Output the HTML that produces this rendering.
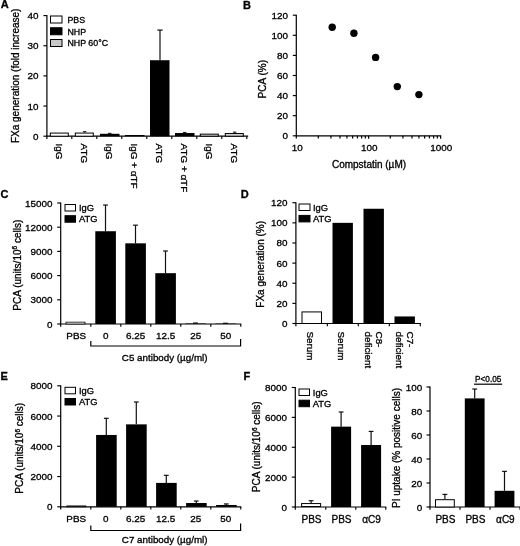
<!DOCTYPE html>
<html><head><meta charset="utf-8"><title>Figure</title>
<style>
html,body{margin:0;padding:0;background:#fff;}
svg{display:block;filter:blur(0.35px);font-family:"Liberation Sans",sans-serif;fill:#000;}
text{stroke:#000;stroke-width:0.32px;}
</style></head><body>
<svg width="520" height="546" viewBox="0 0 520 546">
<rect x="0" y="0" width="520" height="546" fill="#fff"/>
<text x="0.7" y="7.9" font-size="11" text-anchor="start" font-weight="bold">A</text>
<line x1="46.9" y1="15.1" x2="46.9" y2="138.89999999999998" stroke="#000" stroke-width="1.2"/>
<line x1="43.4" y1="136.2" x2="46.9" y2="136.2" stroke="#000" stroke-width="1.15"/>
<text x="38.599999999999994" y="139.7" font-size="9.9" text-anchor="end">0</text>
<line x1="43.4" y1="106.04999999999998" x2="46.9" y2="106.04999999999998" stroke="#000" stroke-width="1.15"/>
<text x="38.599999999999994" y="109.54999999999998" font-size="9.9" text-anchor="end">10</text>
<line x1="43.4" y1="75.89999999999999" x2="46.9" y2="75.89999999999999" stroke="#000" stroke-width="1.15"/>
<text x="38.599999999999994" y="79.39999999999999" font-size="9.9" text-anchor="end">20</text>
<line x1="43.4" y1="45.75" x2="46.9" y2="45.75" stroke="#000" stroke-width="1.15"/>
<text x="38.599999999999994" y="49.25" font-size="9.9" text-anchor="end">30</text>
<line x1="43.4" y1="15.599999999999994" x2="46.9" y2="15.599999999999994" stroke="#000" stroke-width="1.15"/>
<text x="38.599999999999994" y="19.099999999999994" font-size="9.9" text-anchor="end">40</text>
<line x1="46.3" y1="136.2" x2="248.2" y2="136.2" stroke="#000" stroke-width="1.2"/>
<line x1="71.8" y1="136.2" x2="71.8" y2="138.89999999999998" stroke="#000" stroke-width="1.15"/>
<line x1="96.8" y1="136.2" x2="96.8" y2="138.89999999999998" stroke="#000" stroke-width="1.15"/>
<line x1="121.8" y1="136.2" x2="121.8" y2="138.89999999999998" stroke="#000" stroke-width="1.15"/>
<line x1="146.8" y1="136.2" x2="146.8" y2="138.89999999999998" stroke="#000" stroke-width="1.15"/>
<line x1="171.8" y1="136.2" x2="171.8" y2="138.89999999999998" stroke="#000" stroke-width="1.15"/>
<line x1="196.8" y1="136.2" x2="196.8" y2="138.89999999999998" stroke="#000" stroke-width="1.15"/>
<line x1="221.8" y1="136.2" x2="221.8" y2="138.89999999999998" stroke="#000" stroke-width="1.15"/>
<line x1="246.8" y1="136.2" x2="246.8" y2="138.89999999999998" stroke="#000" stroke-width="1.15"/>
<rect x="50.3" y="133.082" width="18" height="3.1179999999999994" fill="#fff" stroke="#000" stroke-width="1"/>
<text x="56.4" y="143.6" font-size="9.9" text-anchor="start" transform="rotate(90 56.4 143.6)">IgG</text>
<line x1="84.7" y1="131.67749999999998" x2="84.7" y2="132.582" stroke="#111" stroke-width="1.0"/>
<line x1="82.95" y1="131.67749999999998" x2="86.45" y2="131.67749999999998" stroke="#111" stroke-width="1.0"/>
<rect x="75.3" y="133.082" width="18" height="3.1179999999999994" fill="#fff" stroke="#000" stroke-width="1"/>
<text x="81.4" y="143.6" font-size="9.9" text-anchor="start" transform="rotate(90 81.4 143.6)">ATG</text>
<line x1="109.7" y1="133.33575" x2="109.7" y2="133.78799999999998" stroke="#111" stroke-width="1.0"/>
<line x1="107.95" y1="133.33575" x2="111.45" y2="133.33575" stroke="#111" stroke-width="1.0"/>
<rect x="100" y="133.78799999999998" width="19.5" height="2.412" fill="#000"/>
<text x="106.4" y="143.6" font-size="9.9" text-anchor="start" transform="rotate(90 106.4 143.6)">IgG</text>
<rect x="125" y="134.994" width="19.5" height="1.206" fill="#000"/>
<text x="131.4" y="143.6" font-size="9.9" text-anchor="start" transform="rotate(90 131.4 143.6)">IgG + αTF</text>
<line x1="160" y1="30.07199999999999" x2="160" y2="60.221999999999994" stroke="#111" stroke-width="1.2"/>
<line x1="157.4" y1="30.07199999999999" x2="162.6" y2="30.07199999999999" stroke="#111" stroke-width="1.2"/>
<rect x="150" y="60.221999999999994" width="19.5" height="75.978" fill="#000"/>
<text x="156.4" y="143.6" font-size="9.9" text-anchor="start" transform="rotate(90 156.4 143.6)">ATG</text>
<line x1="184.7" y1="132.43124999999998" x2="184.7" y2="133.03425" stroke="#111" stroke-width="1.0"/>
<line x1="182.95" y1="132.43124999999998" x2="186.45" y2="132.43124999999998" stroke="#111" stroke-width="1.0"/>
<rect x="175" y="133.03425" width="19.5" height="3.1657499999999996" fill="#000"/>
<text x="181.4" y="143.6" font-size="9.9" text-anchor="start" transform="rotate(90 181.4 143.6)">ATG + αTF</text>
<rect x="200.3" y="134.13725" width="18" height="2.06275" fill="#d6d6d6" stroke="#000" stroke-width="1"/>
<text x="206.4" y="143.6" font-size="9.9" text-anchor="start" transform="rotate(90 206.4 143.6)">IgG</text>
<line x1="234.7" y1="132.12975" x2="234.7" y2="133.03425" stroke="#111" stroke-width="1.0"/>
<line x1="232.95" y1="132.12975" x2="236.45" y2="132.12975" stroke="#111" stroke-width="1.0"/>
<rect x="225.3" y="133.53425" width="18" height="2.6657499999999996" fill="#d6d6d6" stroke="#000" stroke-width="1"/>
<text x="231.4" y="143.6" font-size="9.9" text-anchor="start" transform="rotate(90 231.4 143.6)">ATG</text>
<rect x="50.5" y="16.0" width="11.5" height="7" fill="#fff" stroke="#000" stroke-width="1"/>
<text x="67.5" y="22.8" font-size="8.8" text-anchor="start">PBS</text>
<rect x="50.5" y="27.75" width="11.5" height="7" fill="#000" stroke="#000" stroke-width="1"/>
<text x="67.5" y="34.55" font-size="8.8" text-anchor="start">NHP</text>
<rect x="50.5" y="39.5" width="11.5" height="7" fill="#c8c8c8" stroke="#000" stroke-width="1"/>
<text x="67.5" y="46.3" font-size="8.8" text-anchor="start">NHP 60°C</text>
<text x="19" y="75.8" font-size="10" text-anchor="middle" transform="rotate(-90 19 75.8)">FXa generation (fold increase)</text>
<text x="242.9" y="8.6" font-size="11" text-anchor="start" font-weight="bold">B</text>
<line x1="296.3" y1="14.7" x2="296.3" y2="138.5" stroke="#000" stroke-width="1.2"/>
<line x1="292.8" y1="135.8" x2="296.3" y2="135.8" stroke="#000" stroke-width="1.15"/>
<text x="288.0" y="139.3" font-size="9.9" text-anchor="end">0</text>
<line x1="292.8" y1="115.70000000000002" x2="296.3" y2="115.70000000000002" stroke="#000" stroke-width="1.15"/>
<text x="288.0" y="119.20000000000002" font-size="9.9" text-anchor="end">20</text>
<line x1="292.8" y1="95.60000000000002" x2="296.3" y2="95.60000000000002" stroke="#000" stroke-width="1.15"/>
<text x="288.0" y="99.10000000000002" font-size="9.9" text-anchor="end">40</text>
<line x1="292.8" y1="75.50000000000001" x2="296.3" y2="75.50000000000001" stroke="#000" stroke-width="1.15"/>
<text x="288.0" y="79.00000000000001" font-size="9.9" text-anchor="end">60</text>
<line x1="292.8" y1="55.40000000000002" x2="296.3" y2="55.40000000000002" stroke="#000" stroke-width="1.15"/>
<text x="288.0" y="58.90000000000002" font-size="9.9" text-anchor="end">80</text>
<line x1="292.8" y1="35.300000000000026" x2="296.3" y2="35.300000000000026" stroke="#000" stroke-width="1.15"/>
<text x="288.0" y="38.800000000000026" font-size="9.9" text-anchor="end">100</text>
<line x1="292.8" y1="15.200000000000017" x2="296.3" y2="15.200000000000017" stroke="#000" stroke-width="1.15"/>
<text x="288.0" y="18.700000000000017" font-size="9.9" text-anchor="end">120</text>
<line x1="295.8" y1="135.8" x2="441.2" y2="135.8" stroke="#000" stroke-width="1.2"/>
<line x1="318.2741596878067" y1="135.8" x2="318.2741596878067" y2="138.4" stroke="#000" stroke-width="1.2"/>
<line x1="330.95273033981573" y1="135.8" x2="330.95273033981573" y2="138.4" stroke="#000" stroke-width="1.2"/>
<line x1="339.9483193756133" y1="135.8" x2="339.9483193756133" y2="138.4" stroke="#000" stroke-width="1.2"/>
<line x1="346.9258403121934" y1="135.8" x2="346.9258403121934" y2="138.4" stroke="#000" stroke-width="1.2"/>
<line x1="352.6268900276224" y1="135.8" x2="352.6268900276224" y2="138.4" stroke="#000" stroke-width="1.2"/>
<line x1="357.4470588810265" y1="135.8" x2="357.4470588810265" y2="138.4" stroke="#000" stroke-width="1.2"/>
<line x1="361.62247906342" y1="135.8" x2="361.62247906342" y2="138.4" stroke="#000" stroke-width="1.2"/>
<line x1="365.30546067963144" y1="135.8" x2="365.30546067963144" y2="138.4" stroke="#000" stroke-width="1.2"/>
<line x1="368.6" y1="135.8" x2="368.6" y2="138.8" stroke="#000" stroke-width="1.2"/>
<line x1="390.2741596878067" y1="135.8" x2="390.2741596878067" y2="138.4" stroke="#000" stroke-width="1.2"/>
<line x1="402.95273033981573" y1="135.8" x2="402.95273033981573" y2="138.4" stroke="#000" stroke-width="1.2"/>
<line x1="411.9483193756133" y1="135.8" x2="411.9483193756133" y2="138.4" stroke="#000" stroke-width="1.2"/>
<line x1="418.9258403121934" y1="135.8" x2="418.9258403121934" y2="138.4" stroke="#000" stroke-width="1.2"/>
<line x1="424.6268900276224" y1="135.8" x2="424.6268900276224" y2="138.4" stroke="#000" stroke-width="1.2"/>
<line x1="429.4470588810265" y1="135.8" x2="429.4470588810265" y2="138.4" stroke="#000" stroke-width="1.2"/>
<line x1="433.62247906342" y1="135.8" x2="433.62247906342" y2="138.4" stroke="#000" stroke-width="1.2"/>
<line x1="437.30546067963144" y1="135.8" x2="437.30546067963144" y2="138.4" stroke="#000" stroke-width="1.2"/>
<line x1="440.6" y1="135.8" x2="440.6" y2="138.8" stroke="#000" stroke-width="1.2"/>
<text x="297.3" y="150.8" font-size="9.9" text-anchor="middle">10</text>
<text x="369.3" y="150.8" font-size="9.9" text-anchor="middle">100</text>
<text x="441.3" y="150.8" font-size="9.9" text-anchor="middle">1000</text>
<circle cx="332.2" cy="27.3" r="3.7" fill="#000"/>
<circle cx="353.9" cy="33.3" r="3.7" fill="#000"/>
<circle cx="375.6" cy="57.4" r="3.7" fill="#000"/>
<circle cx="397.3" cy="86.6" r="3.7" fill="#000"/>
<circle cx="418.9" cy="94.6" r="3.7" fill="#000"/>
<text x="265.6" y="79.2" font-size="10" text-anchor="middle" transform="rotate(-90 265.6 79.2)">PCA (%)</text>
<text x="369" y="168" font-size="10" text-anchor="middle">Compstatin (µM)</text>
<text x="0.5" y="198.3" font-size="11" text-anchor="start" font-weight="bold">C</text>
<line x1="60.7" y1="202.5" x2="60.7" y2="326.7" stroke="#000" stroke-width="1.2"/>
<line x1="57.2" y1="324.0" x2="60.7" y2="324.0" stroke="#000" stroke-width="1.15"/>
<text x="52.400000000000006" y="327.5" font-size="9.9" text-anchor="end">0</text>
<line x1="57.2" y1="299.8" x2="60.7" y2="299.8" stroke="#000" stroke-width="1.15"/>
<text x="52.400000000000006" y="303.3" font-size="9.9" text-anchor="end">3000</text>
<line x1="57.2" y1="275.6" x2="60.7" y2="275.6" stroke="#000" stroke-width="1.15"/>
<text x="52.400000000000006" y="279.1" font-size="9.9" text-anchor="end">6000</text>
<line x1="57.2" y1="251.4" x2="60.7" y2="251.4" stroke="#000" stroke-width="1.15"/>
<text x="52.400000000000006" y="254.9" font-size="9.9" text-anchor="end">9000</text>
<line x1="57.2" y1="227.2" x2="60.7" y2="227.2" stroke="#000" stroke-width="1.15"/>
<text x="52.400000000000006" y="230.7" font-size="9.9" text-anchor="end">12000</text>
<line x1="57.2" y1="203.0" x2="60.7" y2="203.0" stroke="#000" stroke-width="1.15"/>
<text x="52.400000000000006" y="206.5" font-size="9.9" text-anchor="end">15000</text>
<line x1="60.2" y1="324.0" x2="241.2" y2="324.0" stroke="#000" stroke-width="1.2"/>
<line x1="90.8" y1="324.0" x2="90.8" y2="326.7" stroke="#000" stroke-width="1.15"/>
<line x1="120.8" y1="324.0" x2="120.8" y2="326.7" stroke="#000" stroke-width="1.15"/>
<line x1="150.8" y1="324.0" x2="150.8" y2="326.7" stroke="#000" stroke-width="1.15"/>
<line x1="180.8" y1="324.0" x2="180.8" y2="326.7" stroke="#000" stroke-width="1.15"/>
<line x1="210.8" y1="324.0" x2="210.8" y2="326.7" stroke="#000" stroke-width="1.15"/>
<line x1="240.8" y1="324.0" x2="240.8" y2="326.7" stroke="#000" stroke-width="1.15"/>
<rect x="66.0" y="322.1446666666667" width="19" height="1.8553333333333333" fill="#fff" stroke="#000" stroke-width="0.8"/>
<text x="76.2" y="339.3" font-size="9.9" text-anchor="middle">PBS</text>
<line x1="105.5" y1="205.01666666666665" x2="105.5" y2="231.23333333333335" stroke="#111" stroke-width="1.2"/>
<line x1="103.1" y1="205.01666666666665" x2="107.9" y2="205.01666666666665" stroke="#111" stroke-width="1.2"/>
<rect x="95.3" y="231.23333333333335" width="20.6" height="92.76666666666667" fill="#000"/>
<text x="105.7" y="339.3" font-size="9.9" text-anchor="middle">0</text>
<line x1="135.5" y1="225.18333333333334" x2="135.5" y2="243.33333333333334" stroke="#111" stroke-width="1.2"/>
<line x1="133.1" y1="225.18333333333334" x2="137.9" y2="225.18333333333334" stroke="#111" stroke-width="1.2"/>
<rect x="125.3" y="243.33333333333334" width="20.6" height="80.66666666666666" fill="#000"/>
<text x="135.7" y="339.3" font-size="9.9" text-anchor="middle">6.25</text>
<line x1="165.5" y1="250.99666666666667" x2="165.5" y2="273.18" stroke="#111" stroke-width="1.2"/>
<line x1="163.1" y1="250.99666666666667" x2="167.9" y2="250.99666666666667" stroke="#111" stroke-width="1.2"/>
<rect x="155.3" y="273.18" width="20.6" height="50.82" fill="#000"/>
<text x="165.7" y="339.3" font-size="9.9" text-anchor="middle">12.5</text>
<line x1="195.5" y1="323.032" x2="195.5" y2="323.516" stroke="#111" stroke-width="1.2"/>
<line x1="193.1" y1="323.032" x2="197.9" y2="323.032" stroke="#111" stroke-width="1.2"/>
<rect x="185.3" y="323.516" width="20.6" height="0.484" fill="#000"/>
<text x="195.7" y="339.3" font-size="9.9" text-anchor="middle">25</text>
<line x1="225.5" y1="323.274" x2="225.5" y2="323.5966666666667" stroke="#111" stroke-width="1.2"/>
<line x1="223.1" y1="323.274" x2="227.9" y2="323.274" stroke="#111" stroke-width="1.2"/>
<rect x="215.3" y="323.5966666666667" width="20.6" height="0.4033333333333333" fill="#000"/>
<text x="225.7" y="339.3" font-size="9.9" text-anchor="middle">50</text>
<path d="M90.8 341 V346 H240.6 V339" fill="none" stroke="#000" stroke-width="1.2"/>
<text x="164.7" y="361.3" font-size="9.8" text-anchor="middle">C5 antibody (µg/ml)</text>
<text x="20.6" y="265.2" font-size="10" text-anchor="middle" transform="rotate(-90 20.6 265.2)">PCA (units/10<tspan font-size="6.5" dy="-3.2">6</tspan><tspan dy="3.2"> cells)</tspan></text>
<rect x="65" y="204.5" width="10.5" height="6.5" fill="#fff" stroke="#000" stroke-width="1"/>
<text x="79" y="211.05" font-size="9.4" text-anchor="start">IgG</text>
<rect x="65" y="215.7" width="10.5" height="6.5" fill="#000" stroke="#000" stroke-width="1"/>
<text x="79" y="222.25" font-size="9.4" text-anchor="start">ATG</text>
<text x="240.8" y="198.3" font-size="11" text-anchor="start" font-weight="bold">D</text>
<line x1="295.9" y1="202.22" x2="295.9" y2="326.2" stroke="#000" stroke-width="1.2"/>
<line x1="292.4" y1="323.5" x2="295.9" y2="323.5" stroke="#000" stroke-width="1.15"/>
<text x="287.59999999999997" y="327.0" font-size="9.9" text-anchor="end">0</text>
<line x1="292.4" y1="303.37" x2="295.9" y2="303.37" stroke="#000" stroke-width="1.15"/>
<text x="287.59999999999997" y="306.87" font-size="9.9" text-anchor="end">20</text>
<line x1="292.4" y1="283.24" x2="295.9" y2="283.24" stroke="#000" stroke-width="1.15"/>
<text x="287.59999999999997" y="286.74" font-size="9.9" text-anchor="end">40</text>
<line x1="292.4" y1="263.11" x2="295.9" y2="263.11" stroke="#000" stroke-width="1.15"/>
<text x="287.59999999999997" y="266.61" font-size="9.9" text-anchor="end">60</text>
<line x1="292.4" y1="242.98000000000002" x2="295.9" y2="242.98000000000002" stroke="#000" stroke-width="1.15"/>
<text x="287.59999999999997" y="246.48000000000002" font-size="9.9" text-anchor="end">80</text>
<line x1="292.4" y1="222.85000000000002" x2="295.9" y2="222.85000000000002" stroke="#000" stroke-width="1.15"/>
<text x="287.59999999999997" y="226.35000000000002" font-size="9.9" text-anchor="end">100</text>
<line x1="292.4" y1="202.72" x2="295.9" y2="202.72" stroke="#000" stroke-width="1.15"/>
<text x="287.59999999999997" y="206.22" font-size="9.9" text-anchor="end">120</text>
<line x1="295.4" y1="323.5" x2="420.9" y2="323.5" stroke="#000" stroke-width="1.2"/>
<line x1="327.3" y1="323.5" x2="327.3" y2="326.2" stroke="#000" stroke-width="1.15"/>
<line x1="358.3" y1="323.5" x2="358.3" y2="326.2" stroke="#000" stroke-width="1.15"/>
<line x1="389.3" y1="323.5" x2="389.3" y2="326.2" stroke="#000" stroke-width="1.15"/>
<line x1="420.3" y1="323.5" x2="420.3" y2="326.2" stroke="#000" stroke-width="1.15"/>
<rect x="302.0" y="311.922" width="19.5" height="11.578" fill="#fff" stroke="#000" stroke-width="1"/>
<rect x="332.5" y="222.85000000000002" width="20.4" height="100.64999999999999" fill="#000"/>
<rect x="363.5" y="208.75900000000001" width="20.4" height="114.741" fill="#000"/>
<rect x="394.5" y="316.4545" width="20.4" height="7.0455" fill="#000"/>
<text x="306.5" y="331.5" font-size="9.9" text-anchor="start" transform="rotate(90 306.5 331.5)">Serum</text>
<text x="337.5" y="331.5" font-size="9.9" text-anchor="start" transform="rotate(90 337.5 331.5)">Serum</text>
<text x="375.5" y="331.5" font-size="9.9" text-anchor="start" transform="rotate(90 375.5 331.5)">C8-</text>
<text x="364.5" y="331.5" font-size="9.9" text-anchor="start" transform="rotate(90 364.5 331.5)">deficient</text>
<text x="406.5" y="331.5" font-size="9.9" text-anchor="start" transform="rotate(90 406.5 331.5)">C7-</text>
<text x="395.5" y="331.5" font-size="9.9" text-anchor="start" transform="rotate(90 395.5 331.5)">deficient</text>
<rect x="299.0" y="204.0" width="11" height="6.5" fill="#fff" stroke="#000" stroke-width="1"/>
<text x="313" y="210.55" font-size="9.4" text-anchor="start">IgG</text>
<rect x="299.0" y="215.4" width="11" height="6.5" fill="#000" stroke="#000" stroke-width="1"/>
<text x="313" y="221.95000000000002" font-size="9.4" text-anchor="start">ATG</text>
<text x="264.3" y="264.3" font-size="10" text-anchor="middle" transform="rotate(-90 264.3 264.3)">FXa generation (%)</text>
<text x="0.5" y="379.6" font-size="11" text-anchor="start" font-weight="bold">E</text>
<line x1="60.7" y1="385.3" x2="60.7" y2="509.5" stroke="#000" stroke-width="1.2"/>
<line x1="57.2" y1="506.8" x2="60.7" y2="506.8" stroke="#000" stroke-width="1.15"/>
<text x="52.400000000000006" y="510.3" font-size="9.9" text-anchor="end">0</text>
<line x1="57.2" y1="476.55" x2="60.7" y2="476.55" stroke="#000" stroke-width="1.15"/>
<text x="52.400000000000006" y="480.05" font-size="9.9" text-anchor="end">2000</text>
<line x1="57.2" y1="446.3" x2="60.7" y2="446.3" stroke="#000" stroke-width="1.15"/>
<text x="52.400000000000006" y="449.8" font-size="9.9" text-anchor="end">4000</text>
<line x1="57.2" y1="416.05" x2="60.7" y2="416.05" stroke="#000" stroke-width="1.15"/>
<text x="52.400000000000006" y="419.55" font-size="9.9" text-anchor="end">6000</text>
<line x1="57.2" y1="385.8" x2="60.7" y2="385.8" stroke="#000" stroke-width="1.15"/>
<text x="52.400000000000006" y="389.3" font-size="9.9" text-anchor="end">8000</text>
<line x1="60.2" y1="506.8" x2="241.2" y2="506.8" stroke="#000" stroke-width="1.2"/>
<line x1="90.8" y1="506.8" x2="90.8" y2="509.5" stroke="#000" stroke-width="1.15"/>
<line x1="120.8" y1="506.8" x2="120.8" y2="509.5" stroke="#000" stroke-width="1.15"/>
<line x1="150.8" y1="506.8" x2="150.8" y2="509.5" stroke="#000" stroke-width="1.15"/>
<line x1="180.8" y1="506.8" x2="180.8" y2="509.5" stroke="#000" stroke-width="1.15"/>
<line x1="210.8" y1="506.8" x2="210.8" y2="509.5" stroke="#000" stroke-width="1.15"/>
<line x1="240.8" y1="506.8" x2="240.8" y2="509.5" stroke="#000" stroke-width="1.15"/>
<rect x="66.8" y="505.8925" width="19" height="0.9075" fill="#fff" stroke="#000" stroke-width="0.8"/>
<text x="76.2" y="522.3" font-size="9.9" text-anchor="middle">PBS</text>
<line x1="106.3" y1="418.31875" x2="106.3" y2="434.95625" stroke="#111" stroke-width="1.2"/>
<line x1="103.89999999999999" y1="418.31875" x2="108.7" y2="418.31875" stroke="#111" stroke-width="1.2"/>
<rect x="96.1" y="434.95625" width="20.6" height="71.84375" fill="#000"/>
<text x="105.7" y="522.3" font-size="9.9" text-anchor="middle">0</text>
<line x1="136.3" y1="401.98375" x2="136.3" y2="424.36875000000003" stroke="#111" stroke-width="1.2"/>
<line x1="133.9" y1="401.98375" x2="138.70000000000002" y2="401.98375" stroke="#111" stroke-width="1.2"/>
<rect x="126.1" y="424.36875000000003" width="20.6" height="82.43124999999999" fill="#000"/>
<text x="135.7" y="522.3" font-size="9.9" text-anchor="middle">6.25</text>
<line x1="166.3" y1="475.34000000000003" x2="166.3" y2="482.90250000000003" stroke="#111" stroke-width="1.2"/>
<line x1="163.9" y1="475.34000000000003" x2="168.70000000000002" y2="475.34000000000003" stroke="#111" stroke-width="1.2"/>
<rect x="156.10000000000002" y="482.90250000000003" width="20.6" height="23.8975" fill="#000"/>
<text x="165.7" y="522.3" font-size="9.9" text-anchor="middle">12.5</text>
<line x1="196.3" y1="501.0525" x2="196.3" y2="503.01875" stroke="#111" stroke-width="1.2"/>
<line x1="193.9" y1="501.0525" x2="198.70000000000002" y2="501.0525" stroke="#111" stroke-width="1.2"/>
<rect x="186.10000000000002" y="503.01875" width="20.6" height="3.78125" fill="#000"/>
<text x="195.7" y="522.3" font-size="9.9" text-anchor="middle">25</text>
<line x1="226.3" y1="503.92625000000004" x2="226.3" y2="504.985" stroke="#111" stroke-width="1.2"/>
<line x1="223.9" y1="503.92625000000004" x2="228.70000000000002" y2="503.92625000000004" stroke="#111" stroke-width="1.2"/>
<rect x="216.10000000000002" y="504.985" width="20.6" height="1.815" fill="#000"/>
<text x="225.7" y="522.3" font-size="9.9" text-anchor="middle">50</text>
<path d="M90.8 525.5 V530.5 H240.6 V523.5" fill="none" stroke="#000" stroke-width="1.2"/>
<text x="164.7" y="543.3" font-size="9.8" text-anchor="middle">C7 antibody (µg/ml)</text>
<text x="22.8" y="448.3" font-size="10" text-anchor="middle" transform="rotate(-90 22.8 448.3)">PCA (units/10<tspan font-size="6.5" dy="-3.2">6</tspan><tspan dy="3.2"> cells)</tspan></text>
<rect x="65" y="387.3" width="10.5" height="6.5" fill="#fff" stroke="#000" stroke-width="1"/>
<text x="79" y="393.85" font-size="9.4" text-anchor="start">IgG</text>
<rect x="65" y="398.5" width="10.5" height="6.5" fill="#000" stroke="#000" stroke-width="1"/>
<text x="79" y="405.05" font-size="9.4" text-anchor="start">ATG</text>
<text x="243.5" y="380.1" font-size="11" text-anchor="start" font-weight="bold">F</text>
<line x1="295.3" y1="387.0" x2="295.3" y2="509.7" stroke="#000" stroke-width="1.2"/>
<line x1="291.8" y1="507.0" x2="295.3" y2="507.0" stroke="#000" stroke-width="1.15"/>
<text x="287.0" y="510.5" font-size="9.9" text-anchor="end">0</text>
<line x1="291.8" y1="477.125" x2="295.3" y2="477.125" stroke="#000" stroke-width="1.15"/>
<text x="287.0" y="480.625" font-size="9.9" text-anchor="end">2000</text>
<line x1="291.8" y1="447.25" x2="295.3" y2="447.25" stroke="#000" stroke-width="1.15"/>
<text x="287.0" y="450.75" font-size="9.9" text-anchor="end">4000</text>
<line x1="291.8" y1="417.375" x2="295.3" y2="417.375" stroke="#000" stroke-width="1.15"/>
<text x="287.0" y="420.875" font-size="9.9" text-anchor="end">6000</text>
<line x1="291.8" y1="387.5" x2="295.3" y2="387.5" stroke="#000" stroke-width="1.15"/>
<text x="287.0" y="391.0" font-size="9.9" text-anchor="end">8000</text>
<line x1="294.8" y1="507.0" x2="386.3" y2="507.0" stroke="#000" stroke-width="1.2"/>
<line x1="325.8" y1="507.0" x2="325.8" y2="509.7" stroke="#000" stroke-width="1.15"/>
<line x1="355.8" y1="507.0" x2="355.8" y2="509.7" stroke="#000" stroke-width="1.15"/>
<line x1="385.8" y1="507.0" x2="385.8" y2="509.7" stroke="#000" stroke-width="1.15"/>
<line x1="311.1" y1="500.72625" x2="311.1" y2="503.564375" stroke="#111" stroke-width="1.2"/>
<line x1="308.70000000000005" y1="500.72625" x2="313.5" y2="500.72625" stroke="#111" stroke-width="1.2"/>
<rect x="301.6" y="503.564375" width="19" height="2.935625" fill="#fff" stroke="#000" stroke-width="1"/>
<text x="311.5" y="522.6" font-size="10" text-anchor="middle">PBS</text>
<line x1="341.1" y1="411.9975" x2="341.1" y2="426.63625" stroke="#111" stroke-width="1.2"/>
<line x1="338.70000000000005" y1="411.9975" x2="343.5" y2="411.9975" stroke="#111" stroke-width="1.2"/>
<rect x="331.1" y="426.63625" width="20" height="80.36375" fill="#000"/>
<text x="341.5" y="522.6" font-size="10" text-anchor="middle">PBS</text>
<line x1="371.1" y1="431.41625" x2="371.1" y2="445.009375" stroke="#111" stroke-width="1.2"/>
<line x1="368.70000000000005" y1="431.41625" x2="373.5" y2="431.41625" stroke="#111" stroke-width="1.2"/>
<rect x="361.1" y="445.009375" width="20" height="61.990624999999994" fill="#000"/>
<text x="371.5" y="522.6" font-size="10" text-anchor="middle">αC9</text>
<rect x="299.0" y="389.0" width="10.5" height="6.5" fill="#fff" stroke="#000" stroke-width="1"/>
<text x="312.8" y="395.55" font-size="9.4" text-anchor="start">IgG</text>
<rect x="299.0" y="400.2" width="10.5" height="6.5" fill="#000" stroke="#000" stroke-width="1"/>
<text x="312.8" y="406.75" font-size="9.4" text-anchor="start">ATG</text>
<text x="259.8" y="446.8" font-size="10" text-anchor="middle" transform="rotate(-90 259.8 446.8)">PCA (units/10<tspan font-size="6.5" dy="-3.2">6</tspan><tspan dy="3.2"> cells)</tspan></text>
<line x1="430.0" y1="386.5" x2="430.0" y2="509.7" stroke="#000" stroke-width="1.2"/>
<line x1="426.5" y1="507.0" x2="430.0" y2="507.0" stroke="#000" stroke-width="1.15"/>
<text x="422.3" y="510.5" font-size="9.9" text-anchor="end">0</text>
<line x1="426.5" y1="483.0" x2="430.0" y2="483.0" stroke="#000" stroke-width="1.15"/>
<text x="422.3" y="486.5" font-size="9.9" text-anchor="end">20</text>
<line x1="426.5" y1="459.0" x2="430.0" y2="459.0" stroke="#000" stroke-width="1.15"/>
<text x="422.3" y="462.5" font-size="9.9" text-anchor="end">40</text>
<line x1="426.5" y1="435.0" x2="430.0" y2="435.0" stroke="#000" stroke-width="1.15"/>
<text x="422.3" y="438.5" font-size="9.9" text-anchor="end">60</text>
<line x1="426.5" y1="411.0" x2="430.0" y2="411.0" stroke="#000" stroke-width="1.15"/>
<text x="422.3" y="414.5" font-size="9.9" text-anchor="end">80</text>
<line x1="426.5" y1="387.0" x2="430.0" y2="387.0" stroke="#000" stroke-width="1.15"/>
<text x="422.3" y="390.5" font-size="9.9" text-anchor="end">100</text>
<line x1="429.5" y1="507.0" x2="520" y2="507.0" stroke="#000" stroke-width="1.2"/>
<line x1="460" y1="507.0" x2="460" y2="509.7" stroke="#000" stroke-width="1.15"/>
<line x1="490" y1="507.0" x2="490" y2="509.7" stroke="#000" stroke-width="1.15"/>
<line x1="520" y1="507.0" x2="520" y2="509.7" stroke="#000" stroke-width="1.15"/>
<line x1="444.9" y1="494.4" x2="444.9" y2="499.2" stroke="#111" stroke-width="1.2"/>
<line x1="442.5" y1="494.4" x2="447.29999999999995" y2="494.4" stroke="#111" stroke-width="1.2"/>
<rect x="435.5" y="499.7" width="18.8" height="7.3" fill="#fff" stroke="#000" stroke-width="1"/>
<text x="445.4" y="522.6" font-size="10" text-anchor="middle">PBS</text>
<line x1="474.7" y1="389.04" x2="474.7" y2="398.4" stroke="#111" stroke-width="1.2"/>
<line x1="472.3" y1="389.04" x2="477.09999999999997" y2="389.04" stroke="#111" stroke-width="1.2"/>
<rect x="464.8" y="398.4" width="19.8" height="108.6" fill="#000"/>
<text x="475.4" y="522.6" font-size="10" text-anchor="middle">PBS</text>
<line x1="504.5" y1="471.36" x2="504.5" y2="490.8" stroke="#111" stroke-width="1.2"/>
<line x1="502.1" y1="471.36" x2="506.9" y2="471.36" stroke="#111" stroke-width="1.2"/>
<rect x="494.6" y="490.8" width="19.8" height="16.2" fill="#000"/>
<text x="505.4" y="522.6" font-size="10" text-anchor="middle">αC9</text>
<text x="488.2" y="381.5" font-size="8.2" text-anchor="middle" stroke-width="0.3">P&lt;0.05</text>
<line x1="474" y1="384.2" x2="502.2" y2="384.2" stroke="#000" stroke-width="1.2"/>
<text x="400.3" y="448" font-size="10" text-anchor="middle" transform="rotate(-90 400.3 448)">PI uptake (% positive cells)</text>
</svg>
</body></html>
